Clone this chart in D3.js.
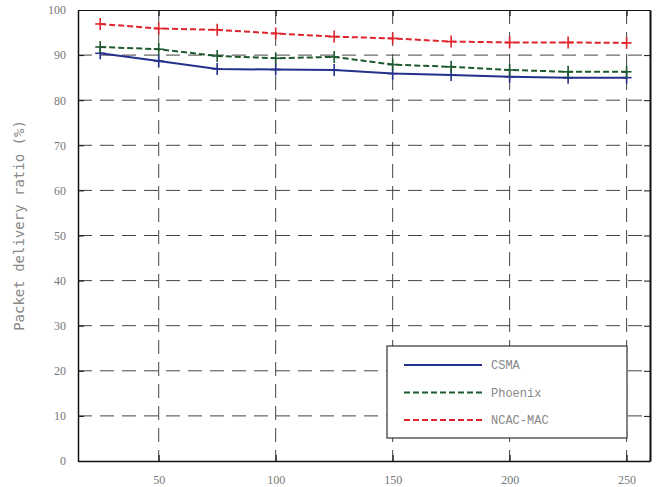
<!DOCTYPE html>
<html>
<head>
<meta charset="utf-8">
<script src="https://cdn.jsdelivr.net/npm/d3@7"></script>
<style>
  body { margin: 0; background: #fff; }
  svg { display: block; }
</style>
</head>
<body>
<div id="chart"></div>
<script>
// data
const nodes = [25, 50, 75, 100, 125, 150, 175, 200, 225, 250];
const csma = [90.4, 88.7, 86.9, 86.8, 86.7, 85.9, 85.6, 85.2, 85.0, 85.0];
const phoenix = [91.8, 91.3, 89.8, 89.3, 89.6, 87.9, 87.4, 86.7, 86.3, 86.3];
const ncac = [96.9, 95.9, 95.6, 94.8, 94.1, 93.7, 93.0, 92.8, 92.8, 92.7];
const xTicks = [50, 100, 150, 200, 250];
const yTicks = [0, 10, 20, 30, 40, 50, 60, 70, 80, 90, 100];

const series = [
    {name: "CSMA", values: csma, color: "#25318a", dash: null},
    {name: "Phoenix", values: phoenix, color: "#1d5a2e", dash: "6,3"},
    {name: "NCAC-MAC", values: ncac, color: "#e0242c", dash: "6,3"}
];

const W = 660, H = 487;
const margin = {top: 10, right: 10, bottom: 26, left: 78},
    width = W - margin.left - margin.right,
    height = H - margin.top - margin.bottom;

const svg = d3.select("#chart")
    .append("svg")
    .attr("width", W)
    .attr("height", H)
    .append("g")
    .attr("transform", `translate(${margin.left}, ${margin.top})`);

const x = d3.scaleLinear().domain([15.5, 260]).range([0, width]);
const y = d3.scaleLinear().domain([0, 100]).range([height, 0]);

// grid
svg.append("g")
    .selectAll("line")
    .data(yTicks.slice(1, -1))
    .join("line")
    .attr("x1", 0).attr("x2", width)
    .attr("y1", d => y(d)).attr("y2", d => y(d))
    .attr("stroke", "#444")
    .attr("stroke-width", 1)
    .attr("stroke-dasharray", "14,8");
svg.append("g")
    .selectAll("line")
    .data(xTicks)
    .join("line")
    .attr("x1", d => x(d)).attr("x2", d => x(d))
    .attr("y1", 0).attr("y2", height)
    .attr("stroke", "#444")
    .attr("stroke-width", 1)
    .attr("stroke-dasharray", "14,8");

// axes (ticks pointing inward)
svg.append("g")
    .attr("transform", `translate(0, ${height})`)
    .call(d3.axisBottom(x).tickValues(xTicks).tickSize(-6).tickPadding(14).tickSizeOuter(0))
    .call(g => g.select(".domain").attr("stroke", "#111").attr("stroke-width", 1.5));
svg.append("g")
    .call(d3.axisLeft(y).tickValues(yTicks).tickSize(-6).tickPadding(12).tickSizeOuter(0))
    .call(g => g.select(".domain").attr("stroke", "#111").attr("stroke-width", 1.5));
svg.append("g")
    .call(d3.axisTop(x).tickValues(xTicks).tickSize(-6).tickFormat("").tickSizeOuter(0))
    .call(g => g.select(".domain").attr("stroke", "#111").attr("stroke-width", 1));
svg.append("g")
    .attr("transform", `translate(${width}, 0)`)
    .call(d3.axisRight(y).tickValues(yTicks).tickSize(-6).tickFormat("").tickSizeOuter(0))
    .call(g => g.select(".domain").attr("stroke", "#111").attr("stroke-width", 2));

svg.selectAll(".tick text")
    .attr("fill", "#777")
    .style("font-family", "Liberation Serif, serif")
    .style("font-size", "12px");
svg.selectAll(".tick line").attr("stroke", "#111");

// y axis label
svg.append("text")
    .attr("transform", `translate(${-54}, ${height / 2 - 10}) rotate(-90)`)
    .attr("text-anchor", "middle")
    .attr("fill", "#888")
    .style("font-family", "DejaVu Sans Mono, monospace")
    .style("font-size", "14px")
    .text("Packet delivery ratio (%)");

// lines
const line = d3.line()
    .x((d, i) => x(nodes[i]))
    .y(d => y(d));

series.forEach(s => {
    svg.append("path")
        .datum(s.values)
        .attr("fill", "none")
        .attr("stroke", s.color)
        .attr("stroke-width", 2)
        .attr("stroke-dasharray", s.dash)
        .attr("d", line);

    const marks = svg.append("g")
        .selectAll("g")
        .data(s.values)
        .join("g")
        .attr("transform", (d, i) => `translate(${x(nodes[i])}, ${y(d)})`)
        .attr("stroke", s.color)
        .attr("stroke-width", 1.6);
    marks.append("line").attr("x1", 0).attr("x2", 0).attr("y1", -6).attr("y2", 6);
    marks.append("line").attr("x1", -5).attr("x2", 5).attr("y1", 0).attr("y2", 0);
});

// legend
const lg = svg.append("g")
    .attr("transform", `translate(${387 - margin.left}, ${346 - margin.top})`);
lg.append("rect")
    .attr("width", 240).attr("height", 92)
    .attr("fill", "#fff")
    .attr("stroke", "#333")
    .attr("stroke-width", 1.2);
series.forEach((s, i) => {
    const yy = 19 + i * 27.5;
    lg.append("line")
        .attr("x1", 17).attr("x2", 95)
        .attr("y1", yy).attr("y2", yy)
        .attr("stroke", s.color)
        .attr("stroke-width", 2)
        .attr("stroke-dasharray", s.dash);
    lg.append("text")
        .attr("x", 104).attr("y", yy)
        .attr("dy", "0.35em")
        .attr("fill", "#888")
        .style("font-family", "Liberation Mono, monospace")
        .style("font-size", "12px")
        .text(s.name);
});
</script>
</body>
</html>
